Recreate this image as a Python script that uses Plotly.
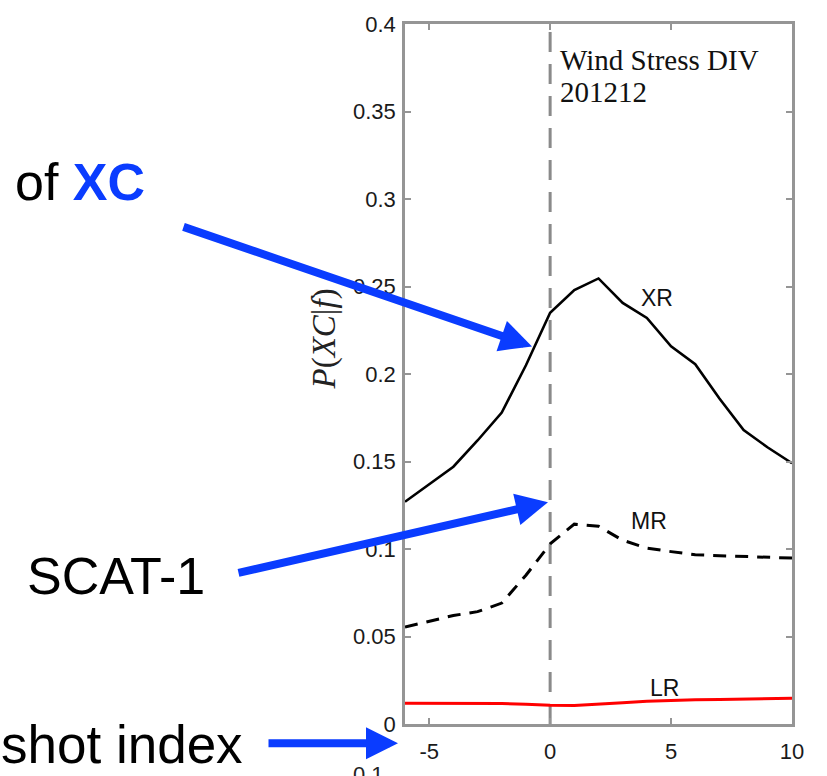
import plotly.graph_objects as go

# Shot index relative to the event
shot = [-6, -5, -4, -3, -2, -1, 0, 1, 2, 3, 4, 5, 6, 7, 8, 9, 10]

# Conditional probabilities P(XC|f) per class
xr = [0.127, 0.137, 0.147, 0.162, 0.178, 0.205, 0.235, 0.248, 0.2546, 0.2406,
      0.232, 0.2158, 0.2056, 0.186, 0.168, 0.158, 0.149]
mr = [0.0554, 0.0585, 0.0620, 0.0642, 0.0691, 0.085, 0.1029, 0.1142, 0.1130, 0.1050,
      0.1005, 0.0985, 0.0967, 0.0962, 0.0958, 0.0953, 0.0948]
lr = [0.0118, 0.0118, 0.0118, 0.0118, 0.0117, 0.0113, 0.0107, 0.0106, 0.0112, 0.0122,
      0.0130, 0.0135, 0.0138, 0.0140, 0.0142, 0.0145, 0.0147]

x_ticks = [-5, 0, 5, 10]
x_ticktext = ["-5", "0", "5", "10"]
y_ticks = [0, 0.05, 0.1, 0.15, 0.2, 0.25, 0.3, 0.35, 0.4]
y_ticktext = ["0", "0.05", "0.1", "0.15", "0.2", "0.25", "0.3", "0.35", "0.4"]

# Figure geometry (pixels)
W, H = 827, 776
L, R, T, B = 405, 792, 20, 730


def px(xp):
    return (xp - L) / (R - L)


def py(yp):
    return (B - yp) / (B - T)


fig = go.Figure()

fig.add_trace(go.Scatter(x=shot, y=xr, mode="lines",
                         line=dict(color="black", width=2.6)))
fig.add_trace(go.Scatter(x=shot, y=mr, mode="lines",
                         line=dict(color="black", width=3, dash="13px,9px")))
fig.add_trace(go.Scatter(x=shot, y=lr, mode="lines",
                         line=dict(color="#ff0000", width=3)))

# event marker at shot 0
fig.add_shape(type="line", xref="x", yref="paper", x0=0, x1=0, y0=0, y1=1,
              line=dict(color="#8a8a8a", width=3, dash="20px,12px"), layer="below")

axis_common = dict(
    showline=True, linecolor="#959595", linewidth=2.5, mirror="ticks",
    ticks="inside", ticklen=6, tickwidth=1.5, tickcolor="#959595",
    showgrid=False, zeroline=False,
    tickfont=dict(family="Liberation Sans", size=22, color="#1a1a1a"),
)

fig.update_xaxes(range=[-6, 10], tickvals=x_ticks, ticktext=x_ticktext,
                 ticklabelstandoff=6, **axis_common)
fig.update_yaxes(range=[0, 0.4], tickvals=y_ticks, ticktext=y_ticktext,
                 ticklabelstandoff=2, **axis_common)

ann = []
# curve labels
label_font = dict(family="Liberation Sans", size=23, color="#111111")
ann.append(dict(x=4.42, y=0.2434, xref="x", yref="y", text="XR", showarrow=False, font=label_font))
ann.append(dict(x=4.09, y=0.116, xref="x", yref="y", text="MR", showarrow=False, font=label_font))
ann.append(dict(x=4.74, y=0.0203, xref="x", yref="y", text="LR", showarrow=False, font=label_font))

# panel caption
serif = dict(family="Liberation Serif", size=29, color="#111111")
ann.append(dict(x=px(558), y=py(57), xref="paper", yref="paper", xanchor="left",
                yanchor="middle", text="Wind Stress DIV", showarrow=False, font=serif))
ann.append(dict(x=px(558), y=py(89), xref="paper", yref="paper", xanchor="left",
                yanchor="middle", text="201212", showarrow=False, font=serif))

# y-axis title
ann.append(dict(x=px(324), y=py(340), xref="paper", yref="paper", textangle=-90,
                xanchor="center", yanchor="middle",
                text="<i>P</i>(<i>XC</i>|<i>f</i>)", showarrow=False,
                font=dict(family="Liberation Serif", size=33, color="#222222")))

# clipped label from the panel below
ann.append(dict(x=px(386), y=py(767), xref="paper", yref="paper", xanchor="right",
                yanchor="top", text="0.1", showarrow=False,
                font=dict(family="Liberation Sans", size=22, color="#222222")))

# callout texts
big = dict(family="Liberation Sans", size=52, color="black")
ann.append(dict(x=px(13), y=py(180), xref="paper", yref="paper", xanchor="left",
                yanchor="middle", showarrow=False, font=big,
                text="of <b><span style='color:#0a3cff'>XC</span></b>"))
ann.append(dict(x=px(25), y=py(580), xref="paper", yref="paper", xanchor="left",
                yanchor="middle", showarrow=False, font=big, text="SCAT-1"))
ann.append(dict(x=px(-1), y=py(751), xref="paper", yref="paper", xanchor="left",
                yanchor="middle", showarrow=False,
                font=dict(family="Liberation Sans", size=53, color="black"),
                text="shot index"))

# callout arrows: (tail_x, tail_y, tip_x, tip_y) in pixels
arrows = [(182, 227, 532, 347), (237, 576, 548, 505), (267, 749.5, 398, 749.5)]
for tx, ty, hx, hy in arrows:
    ann.append(dict(x=px(hx), y=py(hy), xref="paper", yref="paper",
                    ax=tx - hx, ay=ty - hy, axref="pixel", ayref="pixel",
                    text="", showarrow=True, arrowhead=2, arrowsize=0.8,
                    arrowwidth=8, arrowcolor="#0a3cff", standoff=0))

fig.update_layout(
    width=W, height=H,
    margin=dict(l=L, r=W - R, t=T, b=H - B),
    paper_bgcolor="white", plot_bgcolor="white",
    showlegend=False,
    annotations=ann,
)

fig.write_html("out.html")
